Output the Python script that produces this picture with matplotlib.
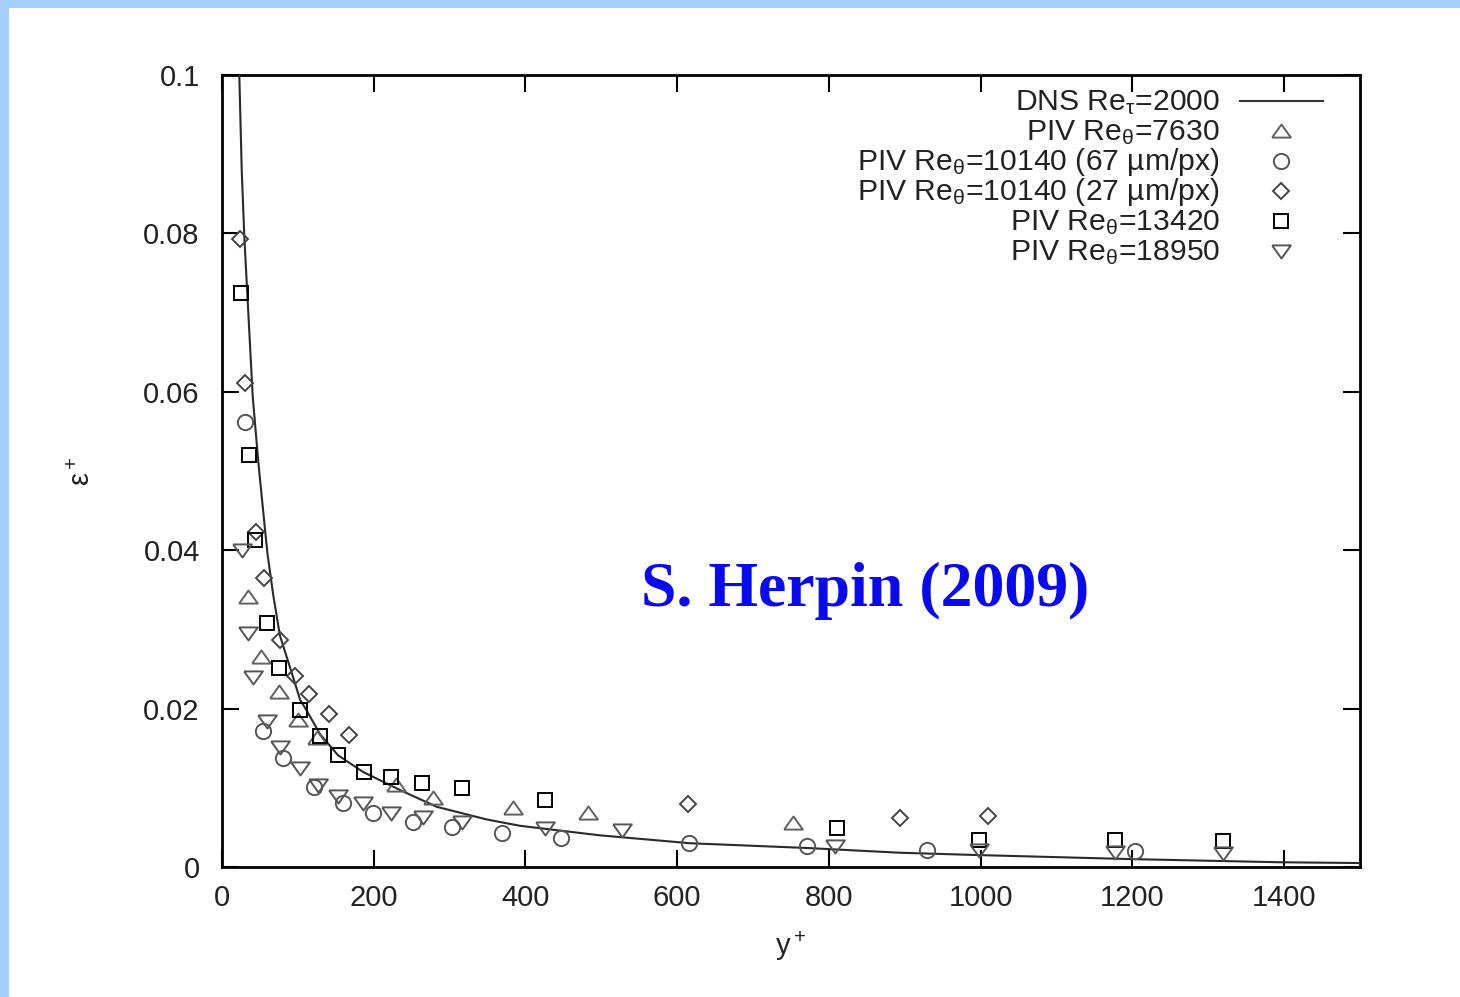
import matplotlib
matplotlib.use("Agg")
import matplotlib.pyplot as plt
from matplotlib.patches import Rectangle

# ---- data ----
# DNS Re_tau=2000 curve
dns_y = [22.8, 26, 29.4, 34, 40.5, 48, 56.7, 60, 67.6, 76.4, 92, 103, 112, 129, 153,
         186, 235, 283, 349, 393, 498, 617, 771, 894, 999, 1197, 1394, 1500]
dns_e = [0.100, 0.088, 0.0796, 0.0712, 0.0594, 0.0510, 0.0426, 0.0395, 0.0343, 0.0292,
         0.0245, 0.0211, 0.0197, 0.0168, 0.0141, 0.0120, 0.0097, 0.0076, 0.0060,
         0.0052, 0.0040, 0.0030, 0.0024, 0.0018, 0.0015, 0.0010, 0.0006, 0.0005]

# PIV Re_theta=7630 (triangles)
tri_y = [34, 51, 75, 100, 125, 230, 278, 384, 482, 752]
tri_e = [0.0341, 0.0265, 0.0221, 0.0186, 0.0163, 0.0104, 0.0087, 0.0075, 0.0068, 0.0056]

# PIV Re_theta=10140 (67 um/px) (circles)
circ_y = [30, 54, 80, 121, 160, 199, 252, 303, 369, 447, 615, 771, 929, 1203]
circ_e = [0.0562, 0.0172, 0.0138, 0.0101, 0.0081, 0.0068, 0.0057, 0.0051, 0.0043,
          0.0037, 0.0030, 0.0027, 0.0021, 0.0020]

# PIV Re_theta=10140 (27 um/px) (diamonds)
dia_y = [24, 30, 45, 55, 76, 96, 115, 141, 168, 614, 894, 1010]
dia_e = [0.0793, 0.0611, 0.0423, 0.0365, 0.0287, 0.0241, 0.0218, 0.0193, 0.0167,
         0.0080, 0.0062, 0.0064]

# PIV Re_theta=13420 (squares)
sq_y = [25, 36, 44, 59, 75, 103, 129, 153, 187, 223, 264, 316, 426, 811, 998, 1177, 1319]
sq_e = [0.0725, 0.0520, 0.0413, 0.0308, 0.0251, 0.0198, 0.0165, 0.0141, 0.0120,
        0.0114, 0.0106, 0.0100, 0.0085, 0.0049, 0.0034, 0.0034, 0.0033]

# PIV Re_theta=18950 (inverted triangles)
inv_y = [26, 34, 41, 59, 76, 103, 127, 153, 186, 223, 265, 316, 426, 527, 808, 998, 1177, 1319]
inv_e = [0.0400, 0.0295, 0.0240, 0.0184, 0.0152, 0.0125, 0.0104, 0.0090, 0.0081,
         0.0068, 0.0063, 0.0057, 0.0049, 0.0047, 0.0027, 0.0021, 0.0019, 0.0018]

labels = ["DNS Re$_\\tau$=2000",
          "PIV Re$_\\theta$=7630",
          "PIV Re$_\\theta$=10140 (67 \u00b5m/px)",
          "PIV Re$_\\theta$=10140 (27 \u00b5m/px)",
          "PIV Re$_\\theta$=13420",
          "PIV Re$_\\theta$=18950"]

xticks = [0, 200, 400, 600, 800, 1000, 1200, 1400]
yticks = [0, 0.02, 0.04, 0.06, 0.08, 0.1]
ytick_labels = ["0", "0.02", "0.04", "0.06", "0.08", "0.1"]

# ---- style ----
plt.rcParams["font.family"] = ["Liberation Sans", "DejaVu Sans"]
plt.rcParams["mathtext.fontset"] = "custom"
plt.rcParams["mathtext.rm"] = "Liberation Sans"
plt.rcParams["mathtext.it"] = "Liberation Sans:italic"
plt.rcParams["mathtext.default"] = "regular"

txt_col = "#222222"
fs = 21

# gnuplot-like flat triangles
up_tri = [(-1, -0.65), (1, -0.65), (0, 0.75), (-1, -0.65)]
down_tri = [(-1, 0.65), (1, 0.65), (0, -0.75), (-1, 0.65)]

styles = [
    dict(marker=up_tri, ms=13.5, mec="#606060"),
    dict(marker="o", ms=11, mec="#555555"),
    dict(marker="D", ms=8, mec="#444444"),
    dict(marker="s", ms=9.5, mec="#000000"),
    dict(marker=down_tri, ms=13.5, mec="#555555"),
]

fig = plt.figure(figsize=(14.6, 9.97), dpi=100)
fig.patches.append(Rectangle((0, 1 - 8 / 997), 1, 8 / 997, transform=fig.transFigure,
                             facecolor="#a3cfff", edgecolor="none", zorder=-5))
fig.patches.append(Rectangle((0, 0), 9 / 1460, 1, transform=fig.transFigure,
                             facecolor="#a3cfff", edgecolor="none", zorder=-5))

ax = fig.add_axes([222 / 1460, 1 - 867 / 997, 1138 / 1460, 792 / 997])

ax.plot(dns_y, dns_e, color="#2a2a2a", lw=1.5, zorder=3)
series = [(tri_y, tri_e), (circ_y, circ_e), (dia_y, dia_e), (sq_y, sq_e), (inv_y, inv_e)]
for (xs, ys), st in zip(series, styles):
    ax.plot(xs, ys, ls="none", mfc="none", mew=1.4, zorder=4, **st)

ax.set_xlim(0, 1500)
ax.set_ylim(0, 0.1)
ax.set_xticks(xticks)
ax.set_yticks(yticks)
ax.set_yticklabels(ytick_labels)
ax.tick_params(axis="both", direction="in", length=12, width=1.5, top=True, right=True,
               labelsize=fs, labelcolor=txt_col)
ax.tick_params(axis="x", pad=12)
ax.tick_params(axis="y", pad=16)
for sp in ax.spines.values():
    sp.set_linewidth(2)
    sp.set_color("black")

ax.set_xlabel("y$^+$", fontsize=fs, color=txt_col, va="center")
ax.xaxis.set_label_coords(0.50, -0.10)
ax.set_ylabel("$\\epsilon^+$", fontsize=fs, color=txt_col, va="center")
ax.yaxis.set_label_coords(-0.123, 0.50)

# gnuplot style key, text right aligned, sample on the right
tx = (1220 - 222) / 1138
mx = (1281 - 222) / 1138
base0 = (867 - 110) / 792
step = 30 / 792
for i, lab in enumerate(labels):
    yb = base0 - i * step
    ax.text(tx, yb, lab, transform=ax.transAxes, ha="right", va="baseline",
            fontsize=21.7, color=txt_col)
    ym = yb + 9 / 792
    if i == 0:
        ax.plot([(1240 - 222) / 1138, (1323 - 222) / 1138], [ym, ym], color="#333333",
                lw=1.5, transform=ax.transAxes)
    else:
        ax.plot([mx], [ym], ls="none", mfc="none", mew=1.4, transform=ax.transAxes,
                **styles[i - 1])

ax.text((865 - 222) / 1138, (867 - 591) / 792, "S. Herpin (2009)", transform=ax.transAxes,
        ha="center", va="center", fontsize=46, fontweight="bold", color="#0a0aee",
        family=["Liberation Serif", "DejaVu Serif"])

fig.savefig("out.png", dpi=100)
